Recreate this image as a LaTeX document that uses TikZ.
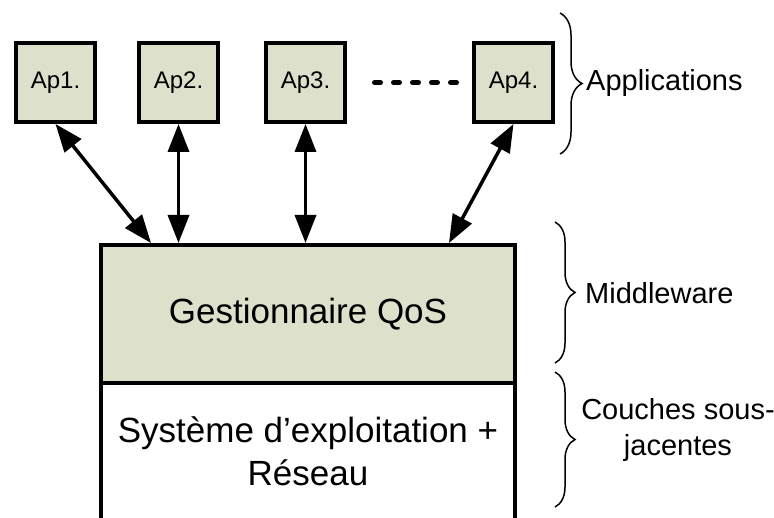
\documentclass[tikz,border=0pt]{standalone}
\usepackage{fontspec}
\setmainfont{Liberation Sans}
\usetikzlibrary{arrows.meta,positioning,decorations.pathreplacing}
\definecolor{apfill}{RGB}{221,224,203}

\begin{document}
\begin{tikzpicture}[x=1pt,y=-1pt,<->,>={Triangle[length=28pt,width=21pt]},
  ap/.style={draw,line width=4pt,fill=apfill,minimum size=79pt,inner sep=0pt,font=\fontsize{24}{28}\selectfont},
  layer/.style={draw,line width=4pt,minimum width=414pt,align=center,font=\fontsize{35}{43}\selectfont},
  lbl/.style={font=\fontsize{29}{36}\selectfont,inner sep=0pt,align=center},
  brc/.style={-,decorate,decoration={brace,amplitude=#1},line width=1.5pt}]
  \useasboundingbox (0,0) rectangle (774,518);
  \node (A1) [ap] at (55.5,82.5) {Ap1.};
  \node (A2) [ap,right=40pt of A1] {Ap2.};
  \node (A3) [ap,right=44pt of A2] {Ap3.};
  \node (A4) [ap,right=125pt of A3] {Ap4.};
  \node (OS) [layer,minimum height=137pt] at (308,451.5) {Système d’exploitation +\\Réseau};
  \node (Q) [layer,fill=apfill,minimum height=138pt] at (308,314) {Gestionnaire QoS};
\path[line width=3.5pt] (A1.south) edge ([xshift=52pt]Q.north west)
	  (A2.south) edge (A2.south |- Q.north)
	  (A3.south) edge (A3.south |- Q.north)
	  (A4.south) edge ([xshift=-68pt]Q.north east);
  \draw[-,line width=5pt,line cap=round,dash pattern=on 6pt off 13pt] ([xshift=27.5pt]A3.east) -- ([xshift=-14pt]A4.west);
  % accolades
  \draw[brc=22pt] (560,13) -- (560,154);
  \draw[brc=20pt] (555,222) -- (555,363);
  \draw[brc=20pt] (555,372) -- (555,507);
  \node (apps) [lbl,anchor=west] at (586,83) {Applications};
  \node (mw) [lbl,anchor=west] at (585,293) {Middleware};
  \node (cs) [lbl] at (678,430) {Couches sous-\\jacentes};
\end{tikzpicture}
\end{document}
